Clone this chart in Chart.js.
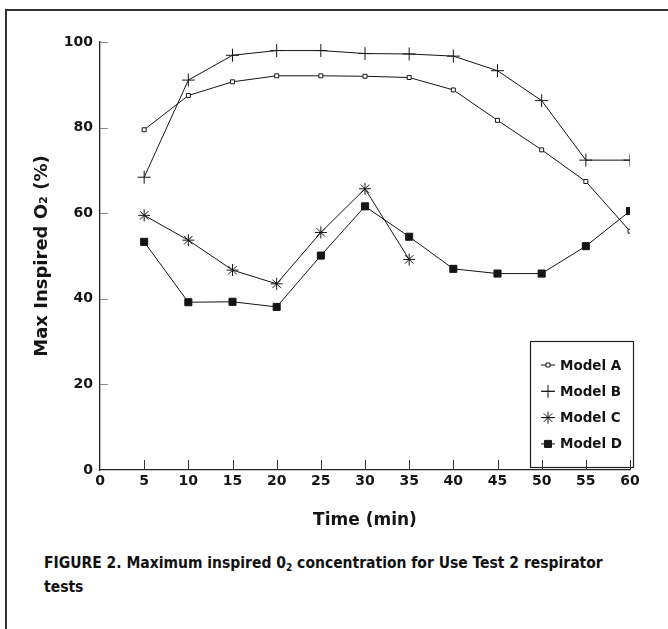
<!DOCTYPE html>
<html><head><meta charset="utf-8">
<script src="https://cdn.jsdelivr.net/npm/chart.js@4.4.0/dist/chart.umd.min.js"></script>
<style>
html,body{margin:0;padding:0;background:#fff;}
#wrap{position:relative;width:668px;height:629px;overflow:hidden;background:#fff;}
#frame{position:absolute;left:5px;top:9px;width:700px;height:700px;border-top:2px solid #333;border-left:2px solid #333;}
#box{position:absolute;left:0;top:0;width:668px;height:540px;}
#cap{position:absolute;left:44px;top:551px;width:620px;font:bold 15.5px 'Liberation Sans Narrow','DejaVu Sans Condensed',sans-serif;line-height:24px;color:#111;}
#cap sub{font-size:10px;vertical-align:-3px;line-height:0;}
</style></head><body>
<div id="wrap"><div id="frame"></div><div id="box"><canvas id="cv" width="668" height="540"></canvas></div>
<div id="cap">FIGURE 2. Maximum inspired 0<sub>2</sub> concentration for Use Test 2 respirator<br>tests</div></div>
<script>
const times = [5,10,15,20,25,30,35,40,45,50,55,60];
const modelA = [79.5,87.5,90.7,92.1,92.1,92.0,91.7,88.8,81.7,74.8,67.4,55.8];
const modelB = [68.4,91.1,96.9,98.0,98.0,97.3,97.2,96.7,93.3,86.3,72.4,72.4];
const timesC = [5,10,15,20,25,30,35];
const modelC = [59.5,53.7,46.7,43.5,55.5,65.7,49.2];
const modelD = [53.3,39.2,39.3,38.1,50.1,61.6,54.5,47.0,45.9,45.9,52.3,60.5];
const seriesNames = ['Model A','Model B','Model C','Model D'];
const xTickStep = 5, yTickStep = 20;

const pts = (xs, ys) => xs.map((x,i)=>({x:x,y:ys[i]}));
const ink = '#151515';
const font = "'DejaVu Sans', sans-serif";

const inwardTicks = {
  id:'inwardTicks',
  afterDatasetsDraw(chart){
    const {ctx, scales:{x,y}} = chart;
    ctx.save();
    ctx.lineWidth = 1;
    ctx.strokeStyle = '#333';
    x.ticks.forEach(t=>{
      if (t.value === 0) return;
      const px = Math.round(x.getPixelForValue(t.value))+0.5;
      ctx.beginPath(); ctx.moveTo(px, y.bottom); ctx.lineTo(px, y.bottom-10); ctx.stroke();
    });
    ctx.strokeStyle = '#888';
    y.ticks.forEach(t=>{
      if (t.value === 0) return;
      const py = Math.round(y.getPixelForValue(t.value))+0.5;
      ctx.beginPath(); ctx.moveTo(x.left, py); ctx.lineTo(x.left+8, py); ctx.stroke();
    });
    ctx.restore();
  }
};

const boxLegend = {
  id:'boxLegend',
  afterDraw(chart){
    const {ctx, chartArea:a} = chart;
    const L = a.right - 100, R = a.right + 3, T = a.bottom - 129, B = a.bottom - 3;
    ctx.save();
    ctx.lineWidth = 1.2; ctx.strokeStyle = '#222';
    ctx.strokeRect(L+0.5, T+0.5, R-L, B-T);
    chart.data.datasets.forEach((ds,i)=>{
      const cy = T + 24 + i*26.3;
      const cx = L + 18;
      ctx.strokeStyle = ink; ctx.lineWidth = 1;
      ctx.beginPath(); ctx.moveTo(cx-7, cy); ctx.lineTo(cx+7, cy); ctx.stroke();
      ctx.fillStyle = ds.pointBackgroundColor; ctx.strokeStyle = ds.pointBorderColor; ctx.lineWidth = ds.pointBorderWidth;
      Chart.helpers.drawPoint(ctx, {pointStyle: ds.pointStyle, radius: ds.pointRadius, borderWidth: ds.pointBorderWidth, rotation:0}, cx, cy);
      ctx.fillStyle = ink;
      ctx.font = "bold 13.5px " + font;
      ctx.textAlign = 'left'; ctx.textBaseline = 'middle';
      ctx.fillText(ds.label, L + 30, cy + 1);
    });
    ctx.restore();
  }
};

const baseDs = {borderColor: ink, borderWidth: 1, tension: 0, pointBorderColor: ink, pointHoverRadius: 0};
new Chart(document.getElementById('cv'), {
  type:'line',
  data:{datasets:[
    Object.assign({}, baseDs, {label:seriesNames[0], data:pts(times, modelA), pointStyle:'rect', pointRadius:2.8, pointBorderWidth:1, pointBackgroundColor:'#fff'}),
    Object.assign({}, baseDs, {label:seriesNames[1], data:pts(times, modelB), pointStyle:'cross', pointRadius:6.5, pointBorderWidth:1, pointBackgroundColor:ink}),
    Object.assign({}, baseDs, {label:seriesNames[2], data:pts(timesC, modelC), pointStyle:'star', pointRadius:6, pointBorderWidth:1, pointBackgroundColor:ink}),
    Object.assign({}, baseDs, {label:seriesNames[3], data:pts(times, modelD), pointStyle:'rect', pointRadius:5, pointBorderWidth:1, pointBackgroundColor:ink})
  ]},
  options:{
    responsive:false, animation:false, devicePixelRatio:1,
    layout:{padding:{top:42, right:38, left:0, bottom:0}},
    plugins:{legend:{display:false}, tooltip:{enabled:false}},
    scales:{
      x:{type:'linear', min:0, max:60,
        ticks:{stepSize:xTickStep, color:ink, padding:3, font:{family:font, weight:'bold', size:14}},
        grid:{display:true, drawOnChartArea:false, drawTicks:false},
        border:{display:true, color:'#222', width:1.3},
        title:{display:true, text:'Time (min)', color:ink, font:{family:font, weight:'bold', size:17}, padding:{top:0,bottom:9}},
        afterFit(s){ s.height = 70; }
      },
      y:{min:0, max:100,
        ticks:{stepSize:yTickStep, color:ink, padding:7, font:{family:font, weight:'bold', size:14}},
        grid:{display:true, drawOnChartArea:false, drawTicks:false},
        border:{display:true, color:'#222', width:1.3},
        title:{display:true, text:'Max Inspired O₂ (%)', color:ink, font:{family:font, weight:'bold', size:18}, padding:{top:32,bottom:0}},
        afterFit(s){ s.width = 100; }
      }
    }
  },
  plugins:[inwardTicks, boxLegend]
});
</script>
</body></html>
